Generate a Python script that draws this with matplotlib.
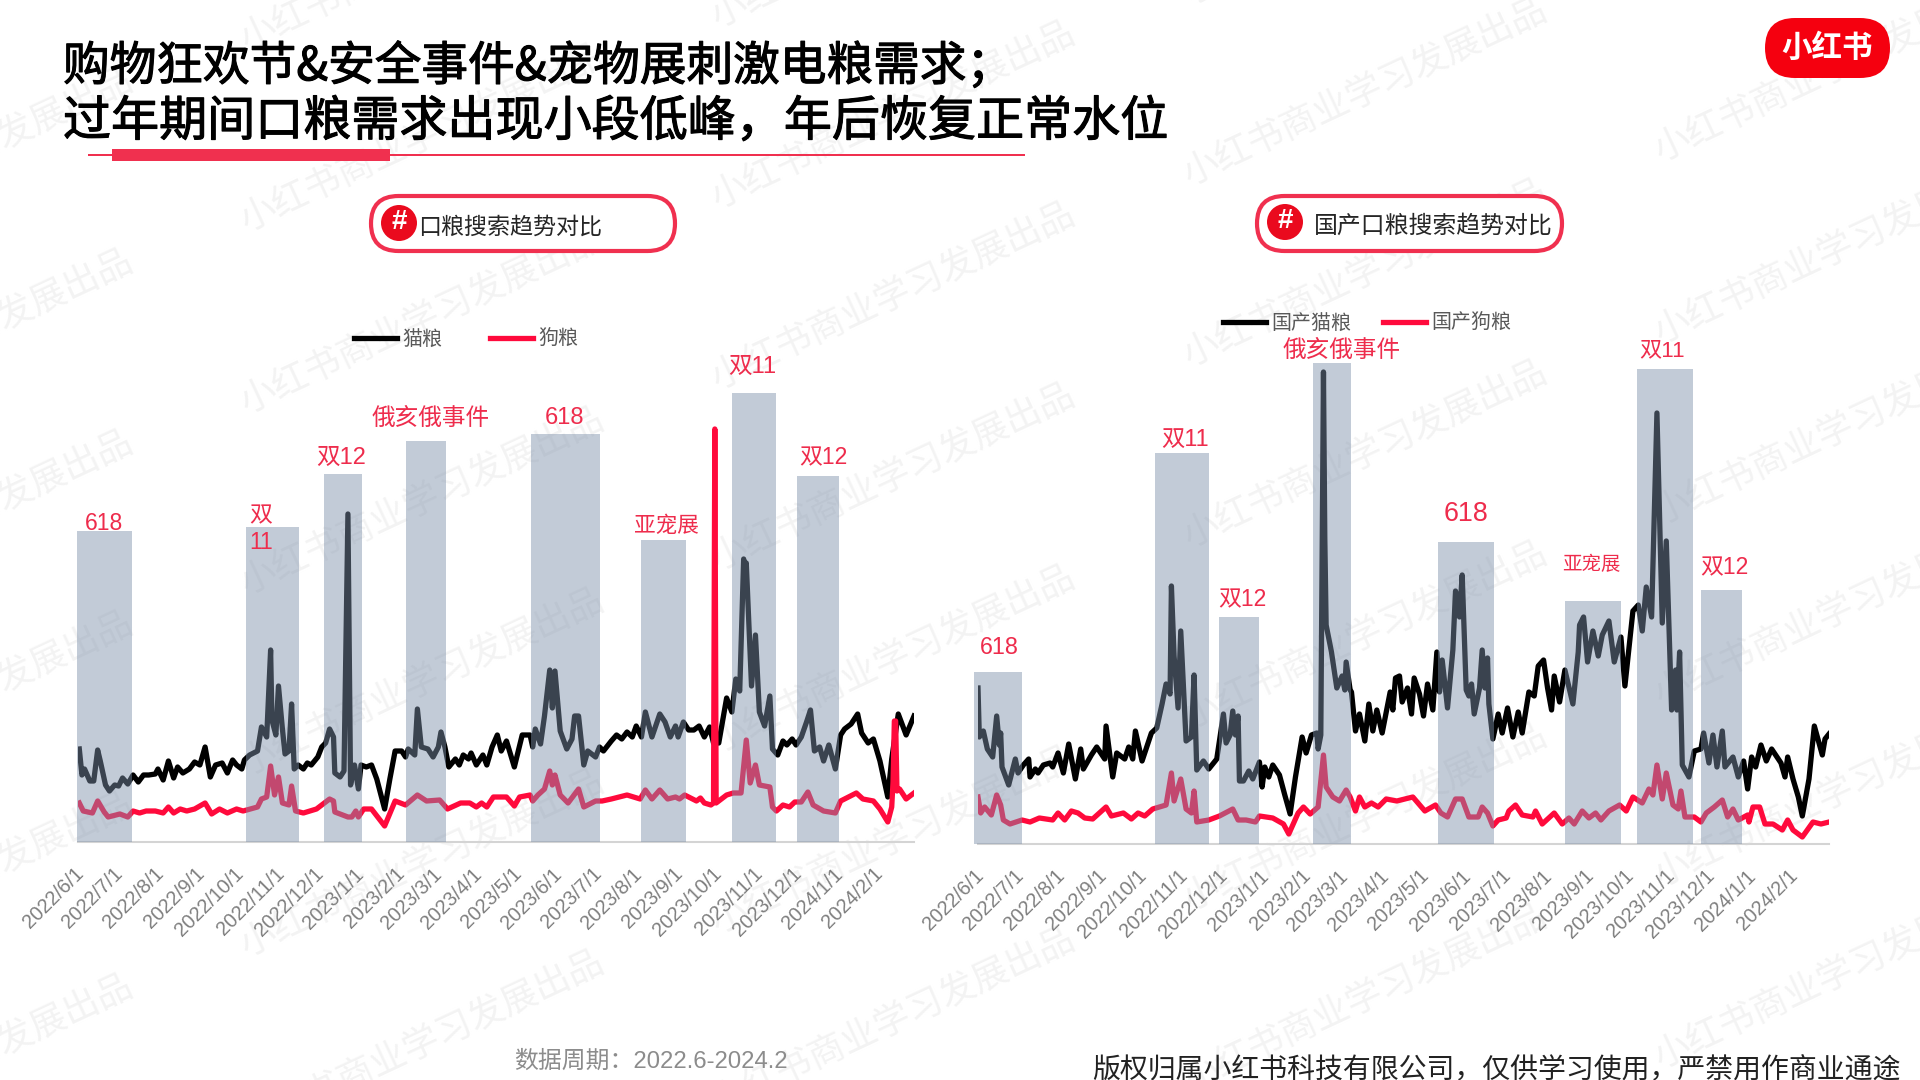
#!/usr/bin/env python3
import numpy as np
import pandas as pd
import matplotlib
matplotlib.use("Agg")
import matplotlib.pyplot as plt
import matplotlib.patheffects as pe
from matplotlib.patches import Circle, FancyBboxPatch, Rectangle
from matplotlib.transforms import ScaledTranslation

plt.rcParams["font.family"] = ["Liberation Sans", "Noto Sans CJK SC", "DejaVu Sans"]

month_labels = [
    "2022/6/1", "2022/7/1", "2022/8/1", "2022/9/1", "2022/10/1", "2022/11/1", "2022/12/1",
    "2023/1/1", "2023/2/1", "2023/3/1", "2023/4/1", "2023/5/1", "2023/6/1", "2023/7/1",
    "2023/8/1", "2023/9/1", "2023/10/1", "2023/11/1", "2023/12/1", "2024/1/1", "2024/2/1",
]

cat_days = [1, 3, 5, 9, 12, 15, 17, 20, 21, 24, 28, 31, 34, 38, 42, 46, 50, 54, 59, 61, 65, 69, 73, 76, 80, 85, 89, 93,
            97, 101, 105, 110, 114, 118, 121, 125, 127, 131, 137, 140, 144, 147, 148, 151, 153, 156, 158, 161, 163,
            165, 168, 172, 175, 178, 183, 186, 189, 192, 195, 196, 200, 203, 206, 208, 211, 214, 216, 220, 224, 228,
            234, 238, 242, 247, 250, 252, 257, 259, 262, 267, 271, 275, 277, 280, 283, 288, 291, 294, 298, 300, 304,
            309, 312, 316, 320, 323, 327, 333, 339, 345, 347, 349, 353, 356, 360, 362, 364, 368, 373, 377, 379, 382,
            386, 389, 395, 398, 401, 407, 411, 415, 419, 423, 426, 430, 433, 438, 444, 448, 452, 456, 458, 462, 466,
            470, 474, 478, 482, 485, 489, 495, 499, 502, 505, 508, 509, 510, 514, 517, 520, 524, 528, 530, 534, 538,
            541, 545, 548, 552, 556, 559, 562, 566, 569, 573, 578, 582, 585, 590, 595, 598, 603, 607, 612, 618, 621,
            626, 632, 638]
cat_vals = [93, 67, 73, 61, 61, 92, 81, 63, 57, 51, 57, 56, 64, 58, 67, 60, 67, 67, 68, 73, 62, 81, 64, 75, 69, 73, 80, 77,
            95, 65, 77, 79, 69, 82, 77, 73, 82, 87, 91, 115, 105, 192, 122, 107, 156, 113, 88, 91, 138,
            73, 77, 73, 79, 77, 85, 95, 99, 113, 105, 69, 65, 71, 328, 57, 77, 53, 77, 75, 77, 63,
            33, 63, 91, 91, 85, 93, 87, 133, 95, 93, 85, 95, 110, 95, 75, 83, 77, 87, 83, 89, 77,
            87, 77, 95, 107, 91, 101, 75, 107, 107, 95, 113, 98, 126, 172, 134, 171, 111, 93, 103, 126, 126,
            77, 91, 85, 95, 91, 101, 107, 103, 110, 105, 116, 105, 130, 105, 128, 120, 105, 116, 105, 120, 112,
            112, 116, 105, 115, 99, 99, 144, 130, 163, 151, 283, 249, 279, 156, 207, 130, 116, 146, 93, 87, 101,
            97, 103, 97, 105, 120, 132, 91, 95, 81, 97, 73, 107, 113, 118, 128, 109, 99, 103, 81, 45, 83,
            128, 107, 126]

dog_days = [1, 4, 11, 15, 20, 23, 32, 38, 42, 47, 52, 59, 65, 69, 73, 78, 83, 89, 97, 102, 108, 114, 121, 126, 137, 140,
            144, 147, 150, 153, 156, 161, 163, 166, 172, 182, 192, 195, 196, 206, 209, 212, 214, 218, 224, 234, 242,
            250, 259, 266, 276, 282, 292, 299, 304, 308, 312, 317, 327, 333, 337, 345, 347, 351, 356, 360, 362, 364,
            368, 374, 382, 386, 395, 400, 407, 419, 429, 433, 438, 444, 450, 456, 459, 463, 472, 475, 478, 483, 485,
            486, 487, 495, 500, 506, 510, 513, 517, 520, 528, 530, 533, 538, 543, 547, 552, 557, 561, 569, 578, 582,
            594, 599, 607, 612, 618, 621, 622, 623, 624, 625, 627, 632, 638]
dog_vals = [39, 31, 29, 41, 30, 25, 28, 25, 31, 29, 31, 31, 29, 35, 29, 33, 31, 33, 39, 28, 33, 29, 33, 31, 35, 43,
            45, 76, 47, 65, 39, 37, 56, 31, 29, 33, 43, 41, 30, 25, 25, 31, 25, 33, 33, 16, 41,
            37, 47, 41, 42, 33, 39, 39, 35, 39, 35, 45, 45, 36, 45, 47, 41, 47, 53, 71, 57, 67,
            47, 39, 53, 35, 41, 41, 43, 47, 43, 52, 43, 52, 43, 45, 43, 47, 41, 44, 39, 37, 39,
            413, 39, 47, 49, 49, 102, 59, 77, 57, 55, 35, 31, 37, 35, 40, 40, 50, 37, 31, 29, 41,
            49, 43, 41, 33, 20, 35, 60, 121, 121, 51, 53, 43, 49]

cn_cat_days = [0, 1, 4, 7, 11, 14, 16, 17, 18, 23, 28, 30, 34, 38, 39, 43, 45, 49, 54, 56, 60, 64, 68, 73, 77, 79, 85, 89,
               95, 96, 101, 104, 110, 113, 116, 118, 123, 130, 134, 138, 141, 144, 145, 147, 150, 152, 156, 160, 162,
               164, 169, 173, 179, 184, 186, 189, 191, 193, 195, 196, 199, 203, 206, 211, 213, 215, 218, 221, 226, 230,
               234, 238, 243, 246, 250, 254, 255, 257, 259, 260, 261, 265, 269, 273, 275, 276, 279, 280, 283, 286, 290,
               293, 296, 299, 303, 309, 311, 313, 316, 318, 322, 325, 327, 331, 334, 337, 341, 344, 346, 348, 352, 356,
               358, 361, 363, 366, 368, 370, 372, 376, 378, 380, 382, 383, 386, 390, 393, 397, 401, 405, 408, 413, 417,
               420, 424, 427, 430, 432, 436, 440, 446, 450, 451, 454, 457, 461, 465, 468, 473, 477, 482, 485, 491, 495,
               498, 501, 505, 509, 513, 516, 520, 523, 524, 526, 528, 533, 537, 542, 544, 548, 551, 554, 558, 560, 566,
               570, 574, 577, 580, 583, 587, 591, 595, 602, 605, 607, 611, 615, 618, 623, 627, 633, 635, 638]
cn_cat_vals = [156, 107, 113, 95, 87, 128, 99, 111, 77, 59, 85, 71, 79, 85, 67, 75, 71, 79, 81, 77, 91, 71, 100, 65, 95, 75, 89, 97,
               85, 118, 67, 91, 85, 97, 85, 113, 83, 111, 116, 140, 160, 150, 258, 188, 136, 213, 103, 107, 169,
               74, 83, 75, 85, 130, 101, 109, 133, 109, 128, 63, 63, 73, 65, 82, 57, 77, 67, 79, 69, 49,
               30, 67, 107, 91, 109, 111, 95, 109, 472, 306, 219, 192, 156, 168, 154, 182, 154, 152, 113, 130, 103,
               140, 113, 134, 111, 152, 134, 166, 168, 142, 156, 130, 166, 150, 128, 160, 134, 192, 152, 184, 136, 194,
               253, 227, 269, 154, 148, 160, 130, 156, 194, 156, 186, 140, 105, 130, 111, 136, 107, 132, 111, 152, 148,
               178, 184, 156, 134, 168, 142, 174, 140, 192, 219, 227, 182, 213, 188, 209, 223, 182, 207, 158, 233, 239,
               213, 257, 227, 431, 221, 303, 134, 174, 134, 192, 79, 67, 93, 95, 111, 81, 109, 77, 113, 77, 87,
               67, 83, 55, 87, 77, 99, 83, 95, 81, 67, 87, 65, 47, 28, 65, 118, 89, 105, 110]

cn_dog_days = [0, 2, 5, 10, 14, 17, 19, 24, 33, 39, 46, 56, 60, 65, 70, 75, 80, 86, 96, 100, 109, 115, 120, 125, 131, 141,
               145, 147, 152, 156, 160, 162, 164, 173, 181, 191, 195, 201, 208, 211, 221, 229, 233, 240, 244, 249, 255,
               259, 261, 266, 271, 276, 279, 283, 286, 290, 295, 300, 306, 314, 326, 335, 343, 347, 352, 358, 363, 368,
               375, 378, 382, 386, 390, 396, 398, 403, 408, 416, 418, 423, 432, 438, 443, 447, 453, 458, 463, 467, 473,
               481, 486, 491, 498, 503, 506, 509, 513, 516, 521, 525, 527, 530, 537, 542, 546, 552, 558, 562, 566, 570,
               577, 578, 581, 586, 590, 596, 603, 607, 611, 618, 626, 632, 638]
cn_dog_vals = [47, 31, 37, 29, 49, 39, 24, 20, 24, 22, 26, 24, 31, 24, 33, 31, 26, 25, 37, 28, 31, 25, 31, 28, 35, 39,
               71, 43, 65, 35, 31, 53, 22, 24, 28, 35, 24, 24, 22, 28, 26, 20, 10, 31, 37, 30, 37,
               89, 57, 47, 43, 54, 47, 33, 47, 37, 41, 37, 45, 43, 47, 33, 39, 31, 27, 45, 45, 27,
               27, 37, 31, 18, 24, 26, 33, 39, 29, 27, 33, 20, 31, 20, 26, 20, 33, 26, 31, 24, 33,
               39, 33, 47, 41, 55, 49, 79, 45, 71, 39, 35, 53, 27, 27, 22, 31, 37, 44, 27, 35, 24,
               29, 22, 37, 37, 20, 20, 14, 24, 14, 7, 22, 20, 22]

# shaded campaign periods: label, first day, last day, band height
left_bar_labels = ["618", "双11", "双12", "俄亥俄事件", "618", "亚宠展", "双11", "双12"]
left_bar_start = [-1, 128, 188, 250, 346, 430, 499, 549]
left_bar_end = [41, 169, 217, 281, 398, 464, 533, 581]
left_bar_top = [311, 315, 368, 401, 408, 302, 449, 366]

right_bar_labels = ["618", "双11", "双12", "俄亥俄事件", "618", "亚宠展", "双11", "双12"]
right_bar_start = [-3, 133, 181, 251, 345, 440, 494, 542]
right_bar_end = [33, 173, 211, 280, 387, 482, 536, 573]
right_bar_top = [172, 391, 227, 481, 302, 243, 475, 254]

RED = "#ff0a3c"
LABEL_RED = "#ee2c4c"
W, H = 1920, 1080


def xf(x):
    return x / W


def yf(y):
    return 1 - y / H


def px_text(fig, x, y, s, **kw):
    kw.setdefault("ha", "center")
    kw.setdefault("va", "center")
    return fig.text(xf(x), yf(y), s, **kw)


def draw_watermarks(fig):
    # tiled diagonal watermark
    for col in range(-1, 5):
        for row in range(-1, 7):
            x = (198 + 385 * col) * W / 1568
            y = (182 - 19 * col + 148 * row) * W / 1568
            fig.text(xf(x), yf(y), "小红书商业学习发展出品", fontsize=26, color="#f3f3f3", rotation=25,
                     rotation_mode="anchor", ha="left", va="center", zorder=-5)


def draw_panel(fig, box, days_a, vals_a, days_b, vals_b, names, bar_start, bar_end, bar_top, legend_anchor, col_gap):
    left, right, base = box
    top = base - 500
    ax = fig.add_axes([xf(left), yf(base), (right - left) / W, (base - top) / H])
    ax.patch.set_alpha(0)
    ax.plot(days_a, vals_a, color="black", lw=3.8, label=names[0], solid_joinstyle="round", zorder=2)
    ax.plot(days_b, vals_b, color=RED, lw=3.8, label=names[1], solid_joinstyle="round", zorder=2.5)
    starts = np.array(bar_start)
    ends = np.array(bar_end)
    ax.bar((starts + ends) / 2, bar_top, width=ends - starts, color="#7e91ab", alpha=0.465, zorder=3, clip_on=False)

    ax.set_xlim(0, 638)
    ax.set_ylim(0, 500)
    for s in ["top", "left", "right"]:
        ax.spines[s].set_visible(False)
    ax.spines["bottom"].set_color("#d4d4d4")
    ax.spines["bottom"].set_linewidth(1.5)
    ax.set_yticks([])
    ticks = (pd.date_range("2022-06-01", periods=len(month_labels), freq="MS") - pd.Timestamp("2022-06-01")).days
    ax.set_xticks(ticks)
    ax.set_xticklabels(month_labels, rotation=45, ha="right", va="top", rotation_mode="anchor",
                       fontsize=14.3, color="#7f7f7f")
    ax.tick_params(axis="x", length=0, pad=16)
    shift = ScaledTranslation(-4 / 100, 0, fig.dpi_scale_trans)
    for lab in ax.get_xticklabels():
        lab.set_transform(lab.get_transform() + shift)
    ax.legend(loc="center left", bbox_to_anchor=legend_anchor, bbox_transform=fig.transFigure, ncol=2, frameon=False,
              fontsize=14.4, handlelength=2.15, handletextpad=0.25, columnspacing=col_gap, labelcolor="#595959",
              borderpad=0, borderaxespad=0)
    return ax


def draw_pill(fig, x0, x1, y0, y1, cx, cy, text, tx, ty, size):
    r = (y1 - y0) / 2
    pill = FancyBboxPatch((x0 + r, H - y1 + r), x1 - x0 - 2 * r, y1 - y0 - 2 * r,
                          boxstyle=f"round,pad={r},rounding_size={r}", transform=None, fc="white", ec="#f0304f", lw=3)
    fig.add_artist(pill)
    fig.add_artist(Circle((cx, H - cy), 18, transform=None, fc="#ea0a1e", ec="none"))
    px_text(fig, cx, cy - 1, "#", color="white", fontsize=20, fontweight="bold", family="Liberation Sans")
    px_text(fig, tx, ty, text, color="#262626", fontsize=size)


def main():
    fig = plt.figure(figsize=(19.2, 10.8), dpi=100)
    fig.patch.set_facecolor("white")
    draw_watermarks(fig)

    draw_panel(fig, (78, 914, 842), cat_days, cat_vals, dog_days, dog_vals, ["猫粮", "狗粮"],
               left_bar_start, left_bar_end, left_bar_top, (xf(354), yf(339)), 2.4)
    draw_panel(fig, (978, 1829, 844), cn_cat_days, cn_cat_vals, cn_dog_days, cn_dog_vals, ["国产猫粮", "国产狗粮"],
               right_bar_start, right_bar_end, right_bar_top, (xf(1223), yf(323)), 1.6)

    # campaign labels
    left_pos = [(104, 523, 16.5), (261, 529, 16.5), (341, 458, 17), (431, 419, 17), (564, 418, 17),
                (666, 526, 15.6), (752, 367, 17), (823, 458, 16.5)]
    for name, (x, y, size) in zip(left_bar_labels, left_pos):
        if (x, y) == (261, 529):
            name = "双\n11"
        px_text(fig, x, y, name, color=LABEL_RED, fontsize=size)
    right_pos = [(999, 648, 16.8), (1185, 439, 16.8), (1242, 600, 16.5), (1342, 351, 17), (1466, 514, 19.4),
                 (1591, 565, 14), (1662, 351, 16), (1724, 568, 16.5)]
    for name, (x, y, size) in zip(right_bar_labels, right_pos):
        px_text(fig, x, y, name, color=LABEL_RED, fontsize=size)

    # heading, stroked a little because the original face is heavier
    heavy = [pe.withStroke(linewidth=0.8, foreground="black")]
    px_text(fig, 63, 67, "购物狂欢节&安全事件&宠物展刺激电粮需求；", fontsize=33.6, ha="left", color="black",
            family="Noto Sans CJK SC", path_effects=heavy)
    px_text(fig, 63, 122, "过年期间口粮需求出现小段低峰，年后恢复正常水位", fontsize=34.6, ha="left", color="black",
            family="Noto Sans CJK SC", path_effects=heavy)
    fig.add_artist(Rectangle((88, H - 156), 937, 2, transform=None, fc="#f0304f", ec="none"))
    fig.add_artist(Rectangle((112, H - 161), 278, 12, transform=None, fc="#f0304f", ec="none"))

    draw_pill(fig, 371, 675, 196, 251, 399, 223, "口粮搜索趋势对比", 510, 227, 16.6)
    draw_pill(fig, 1257, 1562, 196, 251, 1285, 222, "国产口粮搜索趋势对比", 1433, 226, 17.2)

    # logo
    fig.add_artist(FancyBboxPatch((1795, H - 48), 65, 0, boxstyle="round,pad=30,rounding_size=30", transform=None,
                                  fc="#f5000f", ec="none"))
    px_text(fig, 1827, 48, "小红书", color="white", fontsize=22, fontweight="bold", family="Noto Sans CJK SC")

    # footers
    px_text(fig, 514, 1062, "数据周期：2022.6-2024.2", ha="left", fontsize=17.2, color="#8c8c8c")
    px_text(fig, 1092, 1071, "版权归属小红书科技有限公司，仅供学习使用，严禁用作商业通途", ha="left", fontsize=20.1, color="#222222")

    fig.savefig("out.png", dpi=100)
    plt.close("all")


if __name__ == "__main__":
    main()
